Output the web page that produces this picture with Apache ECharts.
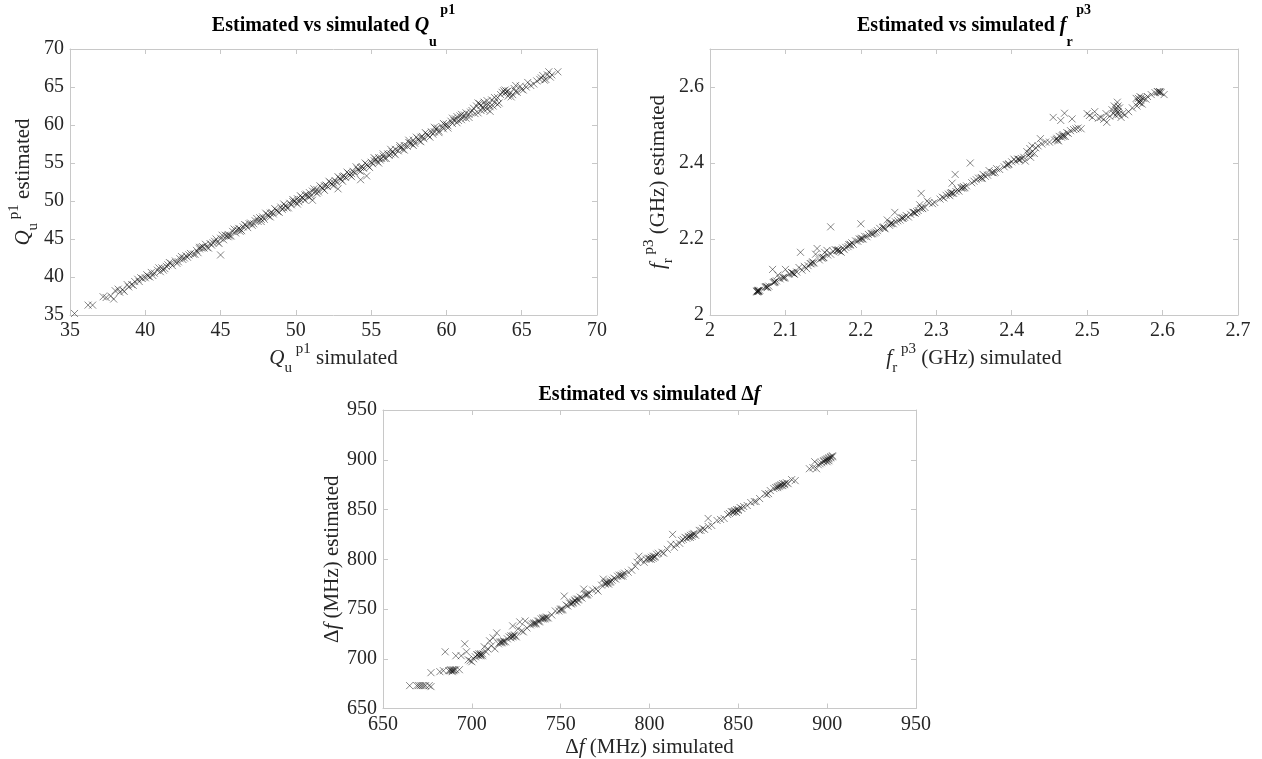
<!DOCTYPE html>
<html>
<head>
<meta charset="utf-8">
<title>Estimated vs simulated</title>
<script src="https://cdn.jsdelivr.net/npm/echarts@6/dist/echarts.min.js"></script>
<style>
  html, body { margin: 0; padding: 0; background: #fff; }
  #chart { width: 1262px; height: 759px; }
</style>
</head>
<body>
<div id="chart"></div>
<script>
// Unloaded quality factor Q_u^p1: [simulated, estimated]
const qPoints = [
  [35.3,35.2],[36.2,36.3],[36.5,36.3],[37.2,37.4],[37.4,37.3],[37.7,37.5],[37.9,37.1],[38.0,38.2],
  [38.2,38.4],[38.5,38.3],[38.6,38.1],[38.9,38.7],[39.1,39.0],[39.3,39.4],[39.5,39.7],[39.6,39.4],
  [39.8,39.8],[40.0,39.9],[40.1,40.3],[40.3,40.0],[40.4,40.6],[40.6,40.5],[40.8,40.9],[41.0,40.7],
  [41.1,41.2],[41.3,41.1],[41.5,41.6],[41.7,41.8],[41.8,41.5],[42.0,42.1],[42.2,42.0],[42.3,42.4],
  [42.5,42.3],[42.7,42.8],[42.8,42.6],[43.0,43.1],[43.2,43.0],[43.4,43.5],[43.5,43.2],[43.7,43.9],
  [43.8,44.0],[43.9,43.8],[44.1,43.9],[44.3,44.4],[44.4,44.2],[44.6,44.7],[44.8,44.6],[45.0,42.9],
  [45.0,45.1],[45.2,44.9],[45.3,45.5],[45.5,45.6],[45.5,45.3],[45.6,45.4],[45.8,46.0],[46.0,45.8],
  [46.1,46.2],[46.2,46.4],[46.4,46.1],[46.5,46.6],[46.7,46.8],[46.8,46.5],[47.0,47.1],[47.2,47.0],
  [47.3,47.4],[47.5,47.3],[47.6,47.8],[47.8,47.9],[47.9,47.6],[48.1,48.2],[48.2,48.0],[48.4,48.5],
  [48.5,48.3],[48.7,48.8],[48.8,48.6],[49.0,49.2],[49.1,48.9],[49.3,49.4],[49.4,49.1],[49.6,49.7],
  [49.7,49.5],[49.9,50.0],[50.0,49.8],[50.1,50.3],[50.2,49.9],[50.4,50.5],[50.5,50.3],[50.6,50.8],
  [50.8,50.6],[50.9,51.1],[51.0,50.7],[51.1,51.3],[51.1,50.1],[51.4,51.5],[51.5,51.2],[51.7,51.8],
  [51.8,51.6],[52.0,52.1],[52.1,51.9],[52.3,52.4],[52.4,52.2],[52.6,52.7],[52.8,51.6],[52.7,52.5],
  [52.9,53.0],[53.0,52.8],[53.2,53.3],[53.3,53.1],[53.5,53.6],[53.6,53.4],[53.8,53.9],[53.9,53.7],
  [54.1,54.2],[54.2,54.0],[54.3,52.8],[54.4,54.5],[54.5,54.3],[54.7,53.3],[54.7,54.8],[54.8,54.6],
  [55.0,55.1],[55.1,54.9],[55.3,55.5],[55.4,55.2],[55.5,55.7],[55.6,55.4],[55.8,55.9],[55.9,55.6],
  [56.1,56.2],[56.2,56.0],[56.4,56.5],[56.5,56.3],[56.6,56.8],[56.8,56.6],[56.9,57.0],[57.1,56.8],
  [57.2,57.3],[57.4,57.2],[57.5,57.7],[57.7,57.5],[57.8,58.0],[57.9,57.6],[58.1,58.2],[58.2,57.9],
  [58.4,58.5],[58.5,58.2],[58.7,58.8],[58.8,58.6],[59.0,59.1],[59.1,58.8],[59.3,59.5],[59.4,59.6],
  [59.5,59.2],[59.7,59.8],[59.8,59.5],[60.0,60.1],[60.1,59.9],[60.3,60.5],[60.4,60.2],[60.6,60.8],
  [60.7,61.1],[60.8,60.6],[60.9,61.2],[61.0,60.7],[61.2,61.3],[61.3,60.9],[61.5,61.4],[61.7,61.9],
  [61.9,61.5],[62.0,62.5],[62.1,61.6],[62.2,62.8],[62.3,61.9],[62.4,62.3],[62.5,63.0],[62.6,62.6],
  [62.7,62.1],[62.8,62.7],[63.0,63.3],[63.1,62.5],[63.2,63.0],[63.4,63.6],[63.5,62.9],[63.7,64.3],
  [63.8,64.5],[63.9,64.2],[64.0,64.4],[64.1,63.8],[64.2,64.1],[64.4,64.0],[64.5,64.8],[64.6,65.2],
  [64.7,64.3],[65.0,64.7],[65.3,65.0],[65.6,65.2],[65.8,65.4],[66.2,66.0],[66.3,66.2],[66.5,65.9],
  [66.7,66.6],[66.8,67.0],[66.9,66.3],[67.4,67.0],
  [40.2,40.1],[41.4,41.4],[42.6,42.5],[43.6,43.7],[44.5,44.5],[45.4,45.4],[46.3,46.3],[46.9,47.0],
  [47.7,47.6],[48.3,48.4],[49.2,49.1],[49.8,49.9],[50.3,50.2],[50.7,50.9],[51.3,51.2],[51.9,52.0],
  [52.5,52.4],[53.1,53.2],[53.7,53.6],[54.3,54.4],[55.2,55.3],[55.7,55.6],[56.3,56.2],[57.0,57.1],
  [57.6,57.6],[58.3,58.4],[59.2,59.1],[59.9,60.0],[60.5,60.6],[61.1,61.0],[61.6,61.7],[62.9,62.4]
];
// Wider scatter around the diagonal
const qSpread = [
  [38.3,38.0],[38.8,39.0],[39.2,38.9],[39.7,39.9],[40.5,40.2],[40.9,41.2],[41.2,40.9],[41.6,41.9],
  [42.1,41.8],[42.4,42.7],[42.9,42.9],[43.3,43.0],[43.6,43.9],[44.0,44.3],[44.2,43.8],[44.7,45.0],
  [44.9,44.4],[45.1,45.5],[45.7,45.4],[45.9,46.3],[46.3,46.0],[46.6,46.9],[47.1,46.8],[47.4,47.7],
  [47.7,47.3],[48.0,48.4],[48.3,47.9],[48.6,49.0],[48.9,48.5],[49.2,49.6],[49.5,49.1],[49.8,50.2],
  [50.1,49.6],[50.3,50.7],[50.6,50.1],[50.9,50.5],[51.2,51.6],[51.4,51.0],[51.6,52.0],[51.9,51.4],
  [52.2,52.6],[52.5,52.0],[52.8,53.2],[53.1,52.6],[53.4,53.8],[53.7,53.2],[54.0,54.5],[54.3,53.9],
  [54.6,55.0],[54.9,54.4],[55.2,55.7],[55.5,55.0],[55.8,56.2],[56.0,55.6],[56.3,56.8],[56.6,56.1],
  [56.9,57.3],[57.2,56.7],[57.5,58.0],[57.8,57.3],[58.0,58.4],[58.3,57.8],[58.6,59.0],[58.9,58.4],
  [59.2,59.7],[59.5,59.0],[59.8,60.2],[60.1,59.6],[60.4,60.9],[60.7,60.3],[61.0,61.4],[61.3,61.6],
  [61.5,61.0],[61.8,62.2],[62.1,62.9],[62.3,62.6],[62.5,62.0],[62.7,63.2],[62.9,61.8],[63.2,63.6],
  [63.4,62.7],[63.6,64.0],[63.9,64.6],[64.1,64.5],[64.3,63.7],[64.6,64.4],[64.9,65.1],[65.1,64.6],
  [65.4,65.6],[66.0,65.8],[66.4,66.5],[66.6,66.0],[67.0,66.6]
];

// Resonant frequency f_r^p3 (GHz): [simulated, estimated]
const frPoints = [
  [2.062,2.063],[2.063,2.061],[2.064,2.064],[2.065,2.062],[2.066,2.065],[2.064,2.062],[2.073,2.073],
  [2.075,2.074],[2.076,2.072],[2.078,2.076],[2.083,2.120],[2.085,2.086],[2.086,2.088],[2.088,2.090],
  [2.090,2.105],[2.093,2.095],[2.097,2.098],[2.099,2.100],[2.100,2.120],[2.105,2.108],[2.108,2.112],
  [2.110,2.110],[2.112,2.107],[2.115,2.113],[2.118,2.125],[2.120,2.165],[2.122,2.118],[2.125,2.128],
  [2.128,2.122],[2.130,2.130],[2.133,2.135],[2.136,2.140],[2.138,2.137],[2.140,2.160],[2.142,2.175],
  [2.145,2.145],[2.148,2.150],[2.150,2.152],[2.152,2.165],[2.155,2.170],[2.156,2.158],[2.160,2.232],
  [2.160,2.160],[2.163,2.168],[2.166,2.172],[2.168,2.170],[2.170,2.172],[2.172,2.168],[2.174,2.165],
  [2.176,2.176],[2.178,2.172],[2.180,2.178],[2.183,2.180],[2.186,2.184],[2.188,2.190],[2.190,2.186],
  [2.193,2.195],[2.196,2.194],[2.198,2.200],[2.200,2.240],[2.201,2.202],[2.203,2.200],[2.205,2.207],
  [2.208,2.206],[2.210,2.212],[2.214,2.213],[2.218,2.216],[2.220,2.218],[2.222,2.222],[2.225,2.228],
  [2.230,2.232],[2.232,2.227],[2.235,2.250],[2.238,2.236],[2.240,2.242],[2.243,2.240],[2.245,2.270],
  [2.246,2.245],[2.249,2.248],[2.252,2.250],[2.255,2.256],[2.258,2.257],[2.260,2.262],[2.263,2.258],
  [2.266,2.265],[2.270,2.270],[2.272,2.268],[2.274,2.272],[2.276,2.275],[2.278,2.290],[2.280,2.320],
  [2.282,2.280],[2.285,2.283],[2.288,2.300],[2.290,2.295],[2.295,2.293],[2.298,2.296],[2.305,2.305],
  [2.308,2.310],[2.310,2.308],[2.313,2.315],[2.316,2.318],[2.318,2.314],[2.320,2.322],[2.321,2.347],
  [2.323,2.320],[2.325,2.370],[2.326,2.325],[2.328,2.330],[2.330,2.326],[2.333,2.334],[2.336,2.338],
  [2.338,2.335],[2.340,2.340],[2.345,2.400],[2.347,2.348],[2.350,2.352],[2.353,2.356],[2.356,2.360],
  [2.360,2.362],[2.362,2.370],[2.365,2.365],[2.368,2.368],[2.370,2.380],[2.374,2.375],[2.378,2.376],
  [2.380,2.385],[2.384,2.383],[2.390,2.390],[2.393,2.395],[2.396,2.398],[2.400,2.403],[2.403,2.410],
  [2.405,2.405],[2.408,2.410],[2.410,2.408],[2.413,2.412],[2.416,2.415],[2.418,2.405],[2.420,2.430],
  [2.422,2.420],[2.424,2.438],[2.425,2.415],[2.427,2.445],[2.430,2.425],[2.432,2.440],[2.435,2.445],
  [2.438,2.464],[2.440,2.450],[2.445,2.455],[2.450,2.455],[2.455,2.520],[2.457,2.460],[2.460,2.465],
  [2.462,2.458],[2.463,2.470],[2.465,2.512],[2.466,2.468],[2.468,2.475],[2.470,2.531],[2.471,2.470],
  [2.473,2.480],[2.475,2.478],[2.478,2.485],[2.480,2.516],[2.482,2.488],[2.485,2.490],[2.488,2.492],
  [2.492,2.490],[2.500,2.530],[2.503,2.525],[2.507,2.520],[2.510,2.535],[2.515,2.518],[2.518,2.520],
  [2.522,2.515],[2.525,2.530],[2.526,2.507],[2.530,2.523],[2.533,2.540],[2.535,2.530],[2.536,2.550],
  [2.538,2.525],[2.540,2.560],[2.541,2.535],[2.543,2.545],[2.545,2.520],[2.547,2.530],[2.550,2.527],
  [2.555,2.535],[2.560,2.545],[2.565,2.570],[2.566,2.550],[2.568,2.560],[2.570,2.575],[2.571,2.565],
  [2.573,2.555],[2.575,2.570],[2.578,2.568],[2.580,2.575],[2.585,2.580],[2.590,2.585],[2.593,2.588],
  [2.596,2.586],[2.598,2.585],[2.602,2.580]
];
// Repeated runs that pile up into the dark clusters
const frClusters = [
  [2.063,2.064],[2.064,2.065],[2.062,2.061],[2.074,2.075],[2.076,2.074],[2.084,2.085],[2.086,2.087],
  [2.097,2.099],[2.099,2.097],[2.109,2.111],[2.111,2.109],[2.134,2.135],[2.136,2.137],[2.149,2.150],
  [2.151,2.151],[2.169,2.170],[2.171,2.169],[2.184,2.185],[2.186,2.186],[2.199,2.199],[2.201,2.200],
  [2.214,2.215],[2.216,2.214],[2.229,2.230],[2.231,2.229],[2.239,2.240],[2.241,2.241],[2.254,2.255],
  [2.256,2.254],[2.269,2.270],[2.271,2.269],[2.279,2.280],[2.281,2.282],[2.319,2.320],[2.321,2.321],
  [2.334,2.335],[2.336,2.334],[2.359,2.360],[2.361,2.359],[2.374,2.375],[2.376,2.374],[2.394,2.395],
  [2.396,2.396],[2.409,2.410],[2.411,2.409],[2.424,2.425],[2.426,2.427],[2.459,2.462],[2.461,2.460],
  [2.467,2.472],[2.469,2.470],[2.538,2.540],[2.539,2.545],[2.540,2.532],[2.541,2.550],[2.542,2.528],
  [2.568,2.570],[2.569,2.562],[2.570,2.558],[2.572,2.572],[2.594,2.587],[2.596,2.588],[2.597,2.587]
];

// Bandwidth Δf (MHz): [simulated, estimated]
const dfPoints = [
  [665,673],[669,673],[670,673],[672,673],[674,673],[676,673],[677,672],[677,686],[682,687],[684,688],
  [685,707],[688,688],[689,688],[689,689],[690,688],[691,689],[691,703],[693,689],[694,703],[696,715],
  [697,707],[698,699],[699,698],[700,697],[701,700],[702,702],[703,704],[704,703],[705,705],[705,704],
  [706,703],[707,712],[708,707],[709,710],[710,718],[711,713],[712,721],[713,710],[714,726],[715,715],
  [716,717],[717,716],[718,718],[719,717],[720,720],[721,722],[722,721],[723,723],[723,733],[724,724],
  [725,722],[726,730],[727,737],[728,728],[729,727],[730,738],[731,731],[733,734],[734,735],[735,736],
  [736,735],[737,738],[738,737],[739,740],[740,741],[741,740],[742,742],[743,741],[745,744],[747,748],
  [749,748],[750,749],[751,750],[752,763],[753,754],[754,753],[755,756],[756,755],[757,757],[758,759],
  [759,757],[760,760],[761,762],[762,761],[763,770],[764,764],[765,764],[766,766],[768,769],[770,770],
  [771,768],[773,774],[774,780],[775,776],[776,777],[777,775],[778,778],[779,779],[780,781],[781,780],
  [782,783],[784,784],[785,783],[786,786],[788,787],[790,789],[792,793],[793,797],[794,803],[795,799],
  [797,797],[798,800],[799,801],[800,801],[801,800],[802,803],[803,802],[804,805],[805,806],[807,807],
  [808,806],[810,810],[812,815],[813,825],[814,812],[815,815],[817,816],[818,819],[819,820],[820,822],
  [821,821],[822,823],[823,822],[824,825],[825,826],[826,824],[828,829],[829,829],[830,831],[831,830],
  [833,841],[833,833],[835,834],[838,839],[840,840],[842,841],[844,845],[845,846],[846,848],[847,847],
  [848,849],[849,847],[850,850],[851,852],[852,851],[853,853],[855,854],[857,857],[859,858],[860,858],
  [862,861],[865,866],[866,865],[867,866],[868,869],[870,871],[871,872],[872,873],[873,874],[874,875],
  [875,874],[876,876],[877,877],[878,876],[880,880],[882,879],[890,891],[892,892],[893,898],[894,891],
  [895,895],[896,896],[897,897],[898,899],[899,900],[900,900],[901,901],[901,899],[902,903],[903,904]
];
const dfClusters = [
  [671,673],[673,673],[687,688],[688,689],[689,687],[690,689],[703,704],[704,705],[705,703],[706,705],
  [716,716],[717,717],[718,717],[722,723],[723,722],[724,723],[735,735],[736,736],[738,738],[740,740],
  [741,741],[742,741],[750,750],[751,749],[756,756],[757,756],[758,758],[759,760],[760,759],[764,765],
  [765,765],[775,775],[776,776],[777,777],[778,777],[783,784],[784,783],[785,785],[800,800],[801,802],
  [802,801],[803,803],[822,822],[823,824],[824,823],[825,825],[847,848],[848,848],[849,850],[850,849],
  [872,872],[873,873],[874,874],[875,876],[876,875],[898,898],[899,899],[900,901],[901,902],[902,902],
  [903,903],[900,898]
];

// Axis ranges and tick steps
const qAxis   = { min: 35,  max: 70,  step: 5 };
const frXAxis = { min: 2,   max: 2.7, step: 0.1 };
const frYAxis = { min: 2,   max: 2.7, step: 0.2 };
const dfAxis  = { min: 650, max: 950, step: 50 };

const FONT = "'Liberation Serif', 'Times New Roman', serif";
const BOX = '#c8c8c8';
const INK = '#262626';

const titleRich = {
  n:  { fontFamily: FONT, fontSize: 20, fontWeight: 'bold', color: '#000', lineHeight: 46 },
  i:  { fontFamily: FONT, fontSize: 20, fontWeight: 'bold', fontStyle: 'italic', color: '#000', lineHeight: 46 },
  sb: { fontFamily: FONT, fontSize: 14, fontWeight: 'bold', color: '#000', lineHeight: 26, verticalAlign: 'bottom' },
  sp: { fontFamily: FONT, fontSize: 14, fontWeight: 'bold', color: '#000', lineHeight: 14, verticalAlign: 'top' }
};
const nameRich = {
  n:  { fontFamily: FONT, fontSize: 21, color: INK, lineHeight: 34 },
  i:  { fontFamily: FONT, fontSize: 21, fontStyle: 'italic', color: INK, lineHeight: 34 },
  sb: { fontFamily: FONT, fontSize: 15, color: INK, lineHeight: 14, verticalAlign: 'bottom' },
  sp: { fontFamily: FONT, fontSize: 15, color: INK, lineHeight: 14, verticalAlign: 'top' }
};

const grids = [
  { left: 70,  top: 49,  width: 527, height: 266 },
  { left: 710, top: 49,  width: 528, height: 266 },
  { left: 383, top: 410, width: 533, height: 300 }
];

function tickStyle() {
  return { show: true, inside: true, length: 5, lineStyle: { color: BOX, width: 1 } };
}

// Main axis with labels and name, plus a mirrored axis that closes the box
function xAxes(gi, r, name, gap) {
  return [
    {
      type: 'value', gridIndex: gi, position: 'bottom', min: r.min, max: r.max, interval: r.step,
      axisLine: { show: true, lineStyle: { color: BOX, width: 1 } },
      axisTick: tickStyle(), splitLine: { show: false },
      axisLabel: { color: INK, fontFamily: FONT, fontSize: 20, margin: 6 },
      name: name, nameLocation: 'middle', nameGap: gap,
      nameTextStyle: { rich: nameRich }
    },
    {
      type: 'value', gridIndex: gi, position: 'top', min: r.min, max: r.max, interval: r.step,
      axisLine: { show: true, lineStyle: { color: BOX, width: 1 } },
      axisTick: tickStyle(), splitLine: { show: false }, axisLabel: { show: false }
    }
  ];
}
function yAxes(gi, r, name, gap, hideMax) {
  return [
    {
      type: 'value', gridIndex: gi, position: 'left', min: r.min, max: r.max, interval: r.step,
      axisLine: { show: true, lineStyle: { color: BOX, width: 1 } },
      axisTick: tickStyle(), splitLine: { show: false },
      axisLabel: { color: INK, fontFamily: FONT, fontSize: 20, margin: 6, showMaxLabel: !hideMax },
      name: name, nameLocation: 'middle', nameGap: gap,
      nameTextStyle: { rich: nameRich }
    },
    {
      type: 'value', gridIndex: gi, position: 'right', min: r.min, max: r.max, interval: r.step,
      axisLine: { show: true, lineStyle: { color: BOX, width: 1 } },
      axisTick: tickStyle(), splitLine: { show: false }, axisLabel: { show: false }
    }
  ];
}

const CROSS = 'path://M0,0L10,10M10,0L0,10';
function crossSeries(data, axisIdx) {
  return {
    type: 'scatter', xAxisIndex: axisIdx, yAxisIndex: axisIdx, data: data,
    symbol: CROSS, symbolSize: 7,
    itemStyle: { color: 'rgba(0,0,0,0)', borderColor: 'rgba(10,10,10,0.62)', borderWidth: 1 },
    emphasis: { disabled: true }, silent: true
  };
}

function centerOf(g) { return g.left + g.width / 2; }

const option = {
  backgroundColor: '#ffffff',
  animation: false,
  title: [
    { text: '{n|Estimated vs simulated }{i|Q}{sb|u}{sp| p1}', left: centerOf(grids[0]), top: 3, textAlign: 'center', padding: 0, textStyle: { rich: titleRich } },
    { text: '{n|Estimated vs simulated }{i|f}{sb|r}{sp| p3}', left: centerOf(grids[1]), top: 3, textAlign: 'center', padding: 0, textStyle: { rich: titleRich } },
    { text: '{n|Estimated vs simulated Δ}{i|f}', left: centerOf(grids[2]), top: 372, textAlign: 'center', padding: 0, textStyle: { rich: titleRich } }
  ],
  grid: grids,
  xAxis: [].concat(
    xAxes(0, qAxis, '{i|Q}{sb|u}{sp| p1}{n| simulated}', 24),
    xAxes(1, frXAxis, '{i|f}{sb|r}{sp| p3}{n| (GHz) simulated}', 24),
    xAxes(2, dfAxis, '{n|Δ}{i|f}{n| (MHz) simulated}', 22)
  ),
  yAxis: [].concat(
    yAxes(0, qAxis, '{i|Q}{sb|u}{sp| p1}{n| estimated}', 22, false),
    yAxes(1, frYAxis, '{i|f}{sb|r}{sp| p3}{n| (GHz) estimated}', 29, true),
    yAxes(2, dfAxis, '{n|Δ}{i|f}{n| (MHz) estimated}', 27, false)
  ),
  series: [
    crossSeries(qPoints.concat(qSpread), 0),
    crossSeries(frPoints.concat(frClusters), 2),
    crossSeries(dfPoints.concat(dfClusters), 4)
  ]
};

const chart = echarts.init(document.getElementById('chart'), null, { renderer: 'canvas' });
chart.setOption(option);
</script>
</body>
</html>
